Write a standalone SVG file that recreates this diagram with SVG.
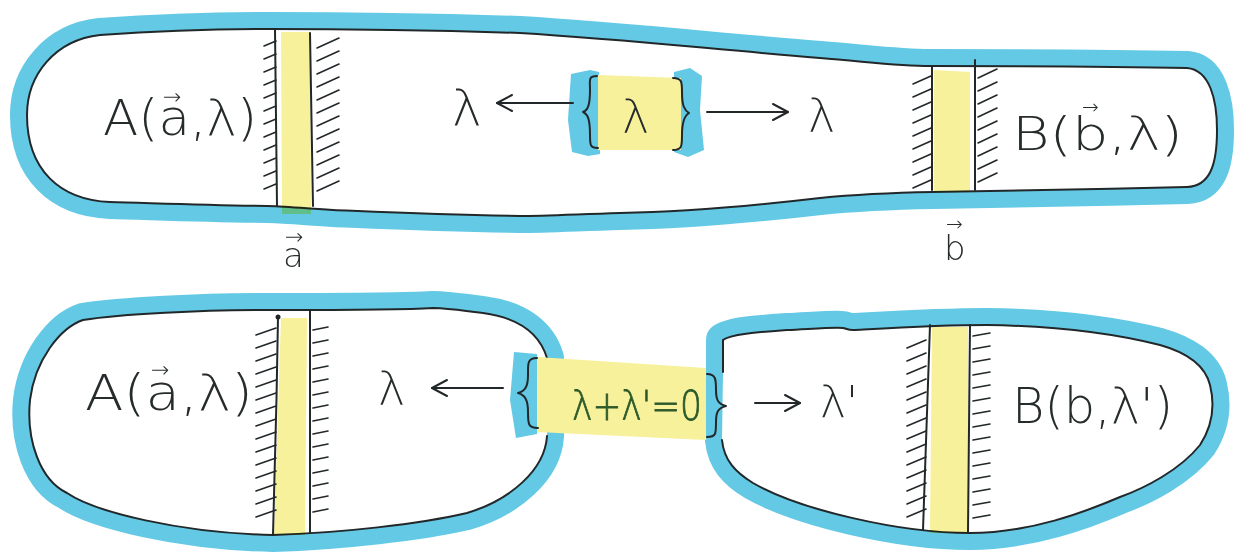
<svg xmlns="http://www.w3.org/2000/svg" width="1239" height="556" viewBox="0 0 1239 556">
<defs>
<style>
.blue{fill:none;stroke:#63c9e4;stroke-width:34;stroke-linejoin:round;stroke-linecap:round}
.bluefill{fill:#63c9e4;stroke:none}
.white{fill:#ffffff;stroke:none}
.ink{fill:none;stroke:#22282a;stroke-width:2;stroke-linecap:round;stroke-linejoin:round}
.hatch{fill:none;stroke:#22282a;stroke-width:1.6;stroke-linecap:round}
.yellow{fill:#f7f19c;mix-blend-mode:multiply}
.ybox{fill:#f7f19c}
.t{font-family:'DejaVu Sans','Liberation Sans',sans-serif;font-weight:200;fill:#262b2c}
.g{font-family:'DejaVu Sans','Liberation Sans',sans-serif;font-weight:200;fill:#2d5a2a;stroke:#2d5a2a;stroke-width:0.8}
</style>
<marker id="ah" markerWidth="24" markerHeight="20" refX="20" refY="10" orient="auto" markerUnits="userSpaceOnUse">
<path d="M5,2 L20,10 L5,18" fill="none" stroke="#22282a" stroke-width="2" stroke-linecap="round" stroke-linejoin="round"/>
</marker>
</defs>
<rect width="1239" height="556" fill="#ffffff"/>

<g id="tube-top">
<path class="blue" d="M100,35 C170,30 220,29 267,29 C380,29 460,31 520,33 C620,39 700,48 820,58 C870,62 900,66 930,66 C1000,66 1100,66 1187,68 C1210,70 1217,100 1217,130 C1217,165 1210,186 1187,187 C1100,189 1000,191 933,192 C880,193 850,195 820,198 C760,205 680,212 620,213 C560,215 540,216 520,216 C440,215 380,212 333,210 C300,208 280,206 267,206 C200,205 150,203 110,202 C60,200 27,170 27,115 C27,75 55,40 100,35 Z"/>
<path class="white" d="M100,35 C170,30 220,29 267,29 C380,29 460,31 520,33 C620,39 700,48 820,58 C870,62 900,66 930,66 C1000,66 1100,66 1187,68 C1210,70 1217,100 1217,130 C1217,165 1210,186 1187,187 C1100,189 1000,191 933,192 C880,193 850,195 820,198 C760,205 680,212 620,213 C560,215 540,216 520,216 C440,215 380,212 333,210 C300,208 280,206 267,206 C200,205 150,203 110,202 C60,200 27,170 27,115 C27,75 55,40 100,35 Z"/>
<path class="ink" d="M100,35 C170,30 220,29 267,29 C380,29 460,31 520,33 C620,39 700,48 820,58 C870,62 900,66 930,66 C1000,66 1100,66 1187,68 C1210,70 1217,100 1217,130 C1217,165 1210,186 1187,187 C1100,189 1000,191 933,192 C880,193 850,195 820,198 C760,205 680,212 620,213 C560,215 540,216 520,216 C440,215 380,212 333,210 C300,208 280,206 267,206 C200,205 150,203 110,202 C60,200 27,170 27,115 C27,75 55,40 100,35 Z"/>
</g>

<g id="blob-left">
<path class="blue" d="M547,358 C540,335 520,318 483,313 C460,310 445,308 433,308 C400,310 330,310 277,310 C200,310 120,314 83,320 C60,328 35,360 30,400 C26,440 40,480 67,493 C95,512 180,533 273,535 C340,533 420,524 467,513 C510,500 545,470 547,436 Z"/>
<path class="white" d="M547,358 C540,335 520,318 483,313 C460,310 445,308 433,308 C400,310 330,310 277,310 C200,310 120,314 83,320 C60,328 35,360 30,400 C26,440 40,480 67,493 C95,512 180,533 273,535 C340,533 420,524 467,513 C510,500 545,470 547,436 Z"/>
<path class="ink" d="M547,358 C540,335 520,318 483,313 C460,310 445,308 433,308 C400,310 330,310 277,310 C200,310 120,314 83,320 C60,328 35,360 30,400 C26,440 40,480 67,493 C95,512 180,533 273,535 C340,533 420,524 467,513 C510,500 545,470 547,436"/>
</g>

<g id="blob-right">
<path class="blue" d="M723,372 L723,340 C730,334 760,332 787,330 C810,329 835,327 843,328 C847,329 849,330 853,330 C890,328 940,325 987,325 C1060,326 1120,335 1160,345 C1185,352 1205,365 1210,385 C1215,405 1213,425 1200,445 C1180,470 1145,488 1120,497 C1085,512 1030,533 970,533 C900,533 800,510 753,483 C735,472 724,460 722,440 Z"/>
<path class="white" d="M723,372 L723,340 C730,334 760,332 787,330 C810,329 835,327 843,328 C847,329 849,330 853,330 C890,328 940,325 987,325 C1060,326 1120,335 1160,345 C1185,352 1205,365 1210,385 C1215,405 1213,425 1200,445 C1180,470 1145,488 1120,497 C1085,512 1030,533 970,533 C900,533 800,510 753,483 C735,472 724,460 722,440 Z"/>
<path class="ink" d="M723,372 L723,340 C730,334 760,332 787,330 C810,329 835,327 843,328 C847,329 849,330 853,330 C890,328 940,325 987,325 C1060,326 1120,335 1160,345 C1185,352 1205,365 1210,385 C1215,405 1213,425 1200,445 C1180,470 1145,488 1120,497 C1085,512 1030,533 970,533 C900,533 800,510 753,483 C735,472 724,460 722,440"/>
</g>

<g id="source-top">
<path class="bluefill" d="M571,74 L590,70 L599,72 L600,154 L588,156 L572,152 L568,120 Z"/>
<path class="bluefill" d="M674,72 L690,68 L702,76 L700,110 L704,150 L688,157 L674,152 Z"/>
<path class="ybox" d="M598,75 L681,78 L681,150 L598,150 Z"/>
<path class="ink" d="M597,76 C588,76 590,80 590,90 C590,105 588,110 583,112 C588,114 590,120 590,135 C590,145 590,148 598,148"/>
<path class="ink" d="M673,78 C682,78 682,82 682,92 C682,105 684,110 689,113 C684,116 682,122 682,135 C682,146 682,150 673,150"/>
<text class="t" x="622" y="133" font-size="46">λ</text>
</g>

<g id="source-bottom">
<path class="bluefill" d="M514,352 L537,354 L537,434 L516,438 L510,400 Z"/>
<path class="ybox" d="M537,357 L706,368 L706,440 L537,432 Z"/>
<path class="ink" d="M537,358 C527,358 528,364 528,375 C528,387 525,391 518,393 C525,395 528,400 528,412 C528,424 528,428 538,428"/>
<path class="ink" d="M707,374 C716,374 716,380 716,390 C716,400 718,404 726,406 C718,408 716,412 716,422 C716,434 716,437 707,437"/>
<text class="g" x="572" y="420" font-size="40" textLength="130" lengthAdjust="spacingAndGlyphs">λ+λ'=0</text>
</g>

<g id="detector-a-top">
<path class="yellow" d="M281,32 L310,32 L311,214 L282,214 Z"/>
<path class="ink" d="M275,30 C276,90 276,150 277,206"/>
<path class="ink" d="M310,33 C311,90 312,150 313,206"/>
<path class="hatch" d="M264,46 l12,-5 m-12,18 l12,-5 m-12,18 l12,-5 m-12,18 l12,-5 m-12,18 l12,-5 m-12,18 l12,-5 m-12,18 l12,-5 m-12,18 l12,-5 m-12,18 l12,-5 m-12,18 l12,-5 m-12,18 l12,-5 m-12,18 l12,-5"/>
<path class="hatch" d="M317,48 l22,-10 m-22,23 l22,-10 m-22,23 l22,-10 m-22,23 l22,-10 m-22,23 l22,-10 m-22,23 l22,-10 m-22,23 l22,-10 m-22,23 l22,-10 m-22,23 l22,-10 m-22,23 l22,-10 m-22,23 l22,-10 m-22,23 l22,-10"/>
</g>

<g id="detector-b-top">
<path class="yellow" d="M934,70 L970,72 L970,192 L934,192 Z"/>
<path class="ink" d="M932,67 L932,190"/>
<path class="ink" d="M975,60 L975,190"/>
<path class="hatch" d="M913,84 l18,-8 m-18,21 l18,-8 m-18,21 l18,-8 m-18,21 l18,-8 m-18,21 l18,-8 m-18,21 l18,-8 m-18,21 l18,-8 m-18,21 l18,-8 m-18,21 l18,-8"/>
<path class="hatch" d="M978,78 l19,-9 m-19,22 l19,-9 m-19,22 l19,-9 m-19,22 l19,-9 m-19,22 l19,-9 m-19,22 l19,-9 m-19,22 l19,-9 m-19,22 l19,-9 m-19,22 l19,-9"/>
</g>

<g id="detector-a-bottom">
<path class="yellow" d="M281,318 L307,318 L305,535 L274,535 Z"/>
<path class="ink" d="M278,317 C277,390 275,460 273,535"/>
<circle cx="278" cy="317" r="2.5" fill="#22282a"/>
<path class="ink" d="M310,311 L310,533"/>
<path class="hatch" d="M256,335 l20,-7 m-20,20 l20,-7 m-20,20 l20,-7 m-20,20 l20,-7 m-20,20 l20,-7 m-20,20 l20,-7 m-20,20 l20,-7 m-20,20 l20,-7 m-20,20 l20,-7 m-20,20 l20,-7 m-20,20 l20,-7 m-20,20 l20,-7 m-20,20 l20,-7 m-20,20 l20,-7 m-20,20 l20,-7"/>
<path class="hatch" d="M313,330 l15,-3 m-15,16 l15,-3 m-15,16 l15,-3 m-15,16 l15,-3 m-15,16 l15,-3 m-15,16 l15,-3 m-15,16 l15,-3 m-15,16 l15,-3 m-15,16 l15,-3 m-15,16 l15,-3 m-15,16 l15,-3 m-15,16 l15,-3 m-15,16 l15,-3 m-15,16 l15,-3 m-15,16 l15,-3"/>
</g>

<g id="detector-b-bottom">
<path class="yellow" d="M932,327 L968,327 L968,533 L930,533 Z"/>
<path class="ink" d="M930,325 C928,400 925,470 923,530"/>
<path class="ink" d="M970,325 C969,400 968,470 968,532"/>
<path class="hatch" d="M907,348 l19,-8 m-19,21 l19,-8 m-19,21 l19,-8 m-19,21 l19,-8 m-19,21 l19,-8 m-19,21 l19,-8 m-19,21 l19,-8 m-19,21 l19,-8 m-19,21 l19,-8 m-19,21 l19,-8 m-19,21 l19,-8 m-19,21 l19,-8 m-19,21 l19,-8 m-19,21 l19,-8"/>
<path class="hatch" d="M973,336 l17,-3 m-17,16 l17,-3 m-17,16 l17,-3 m-17,16 l17,-3 m-17,16 l17,-3 m-17,16 l17,-3 m-17,16 l17,-3 m-17,16 l17,-3 m-17,16 l17,-3 m-17,16 l17,-3 m-17,16 l17,-3 m-17,16 l17,-3 m-17,16 l17,-3 m-17,16 l17,-3 m-17,16 l17,-3"/>
</g>

<g id="connectors">
<path class="ink" d="M573,103 L497,103" marker-end="url(#ah)"/>
<path class="ink" d="M707,112 L788,112" marker-end="url(#ah)"/>
<path class="ink" d="M503,388 L432,388" marker-end="url(#ah)"/>
<path class="ink" d="M755,403 L800,403" marker-end="url(#ah)"/>
</g>

<g id="labels">
<g id="label-A-top">
<text class="t" x="103" y="135" font-size="50" textLength="154" lengthAdjust="spacingAndGlyphs">A(a,λ)</text>
<text class="t" x="163" y="104" font-size="22">→</text>
</g>
<text class="t" x="452" y="125" font-size="50">λ</text>
<text class="t" x="808" y="132" font-size="46">λ</text>
<g id="label-B-top">
<text class="t" x="1012" y="150" font-size="46" textLength="171" lengthAdjust="spacingAndGlyphs">B(b,λ)</text>
<text class="t" x="1082" y="114" font-size="20">→</text>
</g>
<g id="label-a-vec">
<text class="t" x="283" y="267" font-size="34">a</text>
<text class="t" x="285" y="244" font-size="22">→</text>
</g>
<g id="label-b-vec">
<text class="t" x="944" y="260" font-size="34">b</text>
<text class="t" x="946" y="231" font-size="20">→</text>
</g>
<g id="label-A-bottom">
<text class="t" x="85" y="410" font-size="50" textLength="168" lengthAdjust="spacingAndGlyphs">A(a,λ)</text>
<text class="t" x="151" y="377" font-size="22">→</text>
</g>
<text class="t" x="378" y="405" font-size="46">λ</text>
<text class="t" x="820" y="418" font-size="44">λ'</text>
<text class="t" x="1012" y="423" font-size="50" textLength="161" lengthAdjust="spacingAndGlyphs">B(b,λ')</text>
</g>
</svg>
